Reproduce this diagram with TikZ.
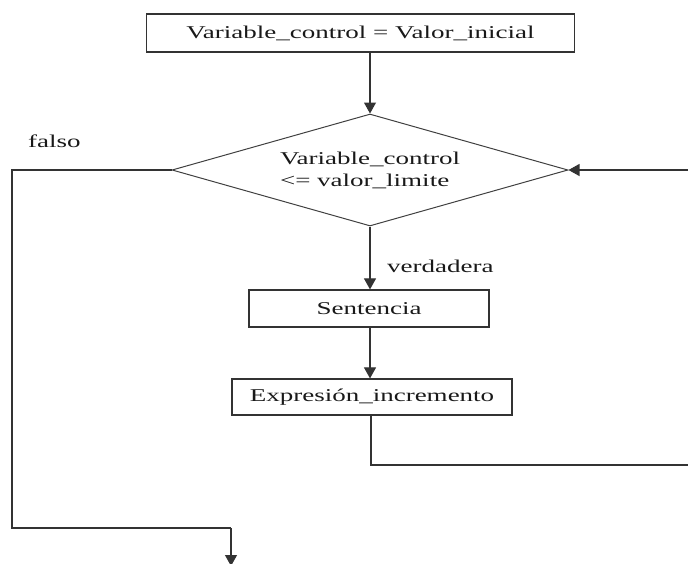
\documentclass[tikz,border=0pt]{standalone}
\usepackage{fontspec}
\setmainfont{Liberation Serif}
\usetikzlibrary{shapes.geometric,arrows.meta}
\newcommand{\wtxt}[1]{\scalebox{1.5}[1]{#1}}
\begin{document}
\begin{tikzpicture}[x=1pt,y=-1pt,
  every node/.style={font=\fontsize{18}{22}\selectfont, text=black!90},
  boxnode/.style={draw=black!80, line width=1.2pt, rectangle, inner sep=0pt},
  decnode/.style={draw=black!75, line width=1pt, diamond, inner sep=0pt, aspect=3.536,
    minimum width=396pt, minimum height=112pt, align=left},
  conn/.style={draw=black!80, line width=1.1pt},
  arr/.style={conn, -{Triangle[width=12pt,length=11pt]}},
  lbl/.style={anchor=base west, inner sep=0pt}]
\useasboundingbox (0,0) rectangle (688,563);

\node[boxnode, minimum width=428pt, minimum height=38pt] (init) at (360.5,33)
  {\wtxt{Variable\_control = Valor\_inicial}};
\node[decnode] (cond) at (370,170)
  {\wtxt{Variable\_control}\\\wtxt{<= valor\_limite}};
\node[boxnode, minimum width=240pt, minimum height=37pt] (sent) at (369,308.5)
  {\wtxt{Sentencia}};
\node[boxnode, minimum width=280pt, minimum height=36pt] (incr) at (372,397)
  {\wtxt{Expresión\_incremento}};

\node[lbl] (falso) at (28,147) {\wtxt{falso}};
\node[lbl] (verd) at (387,272) {\wtxt{verdadera}};

\coordinate (fl1) at (12,170);
\coordinate (fl2) at (12,528);
\coordinate (fl3) at (231,528);
\coordinate (fend) at (231,566);
\coordinate (lp1) at (371,465);
\coordinate (lp2) at (700,465);
\coordinate (lp3) at (700,170);

\draw[arr] (init.south -| cond.north) -- (cond.north);
\draw[arr] (cond.south) -- (sent.north -| cond.south);
\draw[arr] (sent.south -| cond.south) -- (incr.north -| cond.south);
\draw[conn] (cond.west) -- (fl1) -- (fl2) -- (fl3);
\draw[arr] (fl3) -- (fend);
\draw[conn] (incr.south -| lp1) -- (lp1) -- (lp2) -- (lp3);
\draw[arr] (lp3) -- (cond.east);
\end{tikzpicture}
\end{document}
